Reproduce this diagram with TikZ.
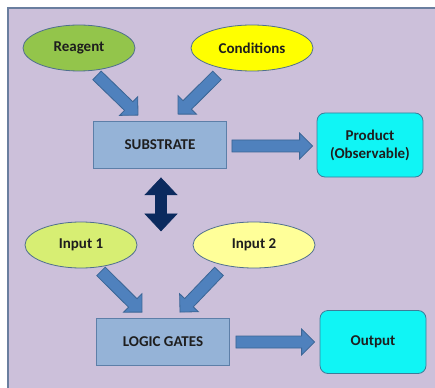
\documentclass[tikz,border=0pt]{standalone}
\usepackage{fontspec}
\setmainfont{Carlito}
\usetikzlibrary{calc, shapes.geometric}
\definecolor{backlilac}{HTML}{CCC0DA}
\definecolor{frameline}{HTML}{6A7E9F}
\definecolor{ovalline}{HTML}{4F6F8F}
\definecolor{reagentgreen}{HTML}{93C54B}
\definecolor{condyellow}{HTML}{FFFF00}
\definecolor{inlime}{HTML}{D7EE73}
\definecolor{inyellow}{HTML}{FFFF99}
\definecolor{boxblue}{HTML}{95B3D7}
\definecolor{boxline}{HTML}{5D7FA8}
\definecolor{resultcyan}{HTML}{10F5F5}
\definecolor{resultline}{HTML}{3C7C99}
\definecolor{arrowblue}{HTML}{4F81BD}
\definecolor{arrowline}{HTML}{3A6595}
\definecolor{navy}{HTML}{0B2A5E}
\definecolor{textgray}{HTML}{1E1E1E}
\tikzset{
  every node/.style = {font=\fontsize{15}{18}\selectfont\bfseries, text=textgray},
  oval/.style = {ellipse, draw=ovalline, line width=0.8pt, minimum height=46pt},
  box/.style = {rectangle, draw=boxline, fill=boxblue, line width=0.8pt,
    minimum width=133pt, minimum height=47pt},
  result/.style = {rectangle, rounded corners=8pt, draw=resultline, fill=resultcyan,
    line width=0.8pt, minimum width=106pt, minimum height=64pt, align=center},
  blockarr/.style = {draw=arrowline, fill=arrowblue, line width=0.8pt,
    to path={let \p1=(\tikztostart), \p2=(\tikztotarget),
      \n1={atan2(\y2-\y1,\x2-\x1)} in
      ($(\p1)+(\n1+90:6pt)$) -- ($(\p2)+(\n1+180:13pt)+(\n1+90:6pt)$)
      -- ($(\p2)+(\n1+180:13pt)+(\n1+90:13pt)$) -- (\p2)
      -- ($(\p2)+(\n1+180:13pt)+(\n1-90:13pt)$) -- ($(\p2)+(\n1+180:13pt)+(\n1-90:6pt)$)
      -- ($(\p1)+(\n1-90:6pt)$) -- cycle}},
  dblarr/.style = {draw=navy, fill=navy, line width=0.6pt,
    to path={let \p1=(\tikztostart), \p2=(\tikztotarget),
      \n1={atan2(\y2-\y1,\x2-\x1)} in
      (\p1) -- ($(\p1)+(\n1:17pt)+(\n1+90:16pt)$) -- ($(\p1)+(\n1:17pt)+(\n1+90:5.5pt)$)
      -- ($(\p2)+(\n1+180:17pt)+(\n1+90:5.5pt)$) -- ($(\p2)+(\n1+180:17pt)+(\n1+90:16pt)$)
      -- (\p2) -- ($(\p2)+(\n1+180:17pt)+(\n1-90:16pt)$) -- ($(\p2)+(\n1+180:17pt)+(\n1-90:5.5pt)$)
      -- ($(\p1)+(\n1:17pt)+(\n1-90:5.5pt)$) -- ($(\p1)+(\n1:17pt)+(\n1-90:16pt)$) -- cycle}}
}
\begin{document}
\begin{tikzpicture}[x=1pt, y=-1pt]
\useasboundingbox (0,0) rectangle (435,387);
\draw[draw=frameline, line width=2pt, fill=backlilac] (8,8) rectangle (450,400);

% upper half
\node[oval, fill=reagentgreen, minimum width=112pt] (reagent) at (79,48) {Reagent};
\node[oval, fill=condyellow, minimum width=122pt] (conditions) at (252,48) {Conditions};
\node[box] (substrate) at (160,145) {SUBSTRATE};
\node[result] (product) at (370,145) {Product\\(Observable)};
\draw[blockarr] ([shift={(18,4)}]reagent.south) to ([shift={(-22,-6)}]substrate.north);
\draw[blockarr] ([shift={(-35,4)}]conditions.south) to ([shift={(18,-7)}]substrate.north);
\draw[blockarr] ([shift={(5,1)}]substrate.east) to ([shift={(-4,1)}]product.west);

\draw[dblarr] ([shift={(1,9)}]substrate.south) to ([shift={(1,62)}]substrate.south);

% lower half
\node[oval, fill=inlime, minimum width=112pt] (input1) at (81,245) {Input 1};
\node[oval, fill=inyellow, minimum width=122pt] (input2) at (254,245) {Input 2};
\node[box] (logic) at (163,342) {LOGIC GATES};
\node[result, minimum height=63pt] (output) at (373,342) {Output};
\draw[blockarr] ([shift={(20,3)}]input1.south) to ([shift={(-21,-6)}]logic.north);
\draw[blockarr] ([shift={(-35,3)}]input2.south) to ([shift={(17,-6)}]logic.north);
\draw[blockarr] ([shift={(6,0)}]logic.east) to ([shift={(-5,0)}]output.west);
\end{tikzpicture}
\end{document}
